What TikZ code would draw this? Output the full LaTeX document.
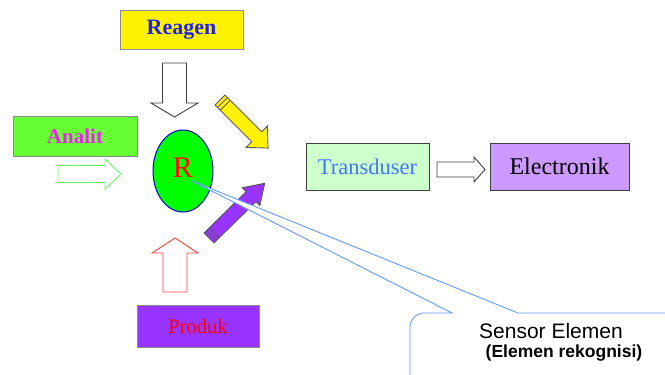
\documentclass[tikz,border=0pt]{standalone}
\usepackage{fontspec}
\setmainfont{Liberation Serif}
\setsansfont{Liberation Sans}
\usepackage{tikz}
\usetikzlibrary{shapes.geometric}

\definecolor{lime}{HTML}{66FF33}
\definecolor{rgreen}{HTML}{00FF00}
\definecolor{violet}{HTML}{9933FF}
\definecolor{lilac}{HTML}{CC99FF}
\definecolor{mint}{HTML}{CCFFCC}
\definecolor{skyline}{HTML}{6699FF}
\definecolor{tblue}{HTML}{4477FF}
\definecolor{rblue}{HTML}{2222EE}
\definecolor{pinkish}{HTML}{EE22EE}

% block arrow: style, tail, angle, length, shaft half width, head half width, head length
\newcommand{\fatarrow}[7]{%
  \begin{scope}[shift={#2}, rotate=#3]
    \draw[#1] (0,-#5) -- ({#4-#7},-#5) -- ({#4-#7},-#6) -- (#4,0) -- ({#4-#7},#6) -- ({#4-#7},#5) -- (0,#5) -- cycle;
  \end{scope}}
% same, with two bands at the tail
\newcommand{\pencilarrow}[7]{%
  \fatarrow{#1}{#2}{#3}{#4}{#5}{#6}{#7}
  \begin{scope}[shift={#2}, rotate=#3]
    \draw[#1] (3.5,-#5) -- (3.5,#5) (7.5,-#5) -- (7.5,#5);
  \end{scope}}

\begin{document}
\begin{tikzpicture}[x=1pt, y=-1pt]
	\tikzstyle{box}=[rectangle, draw=gray!90, line width=0.8pt, inner sep=0pt]
	\tikzstyle{darkbox}=[rectangle, draw=black!75, line width=1pt, inner sep=0pt]
	\tikzstyle{hollow}=[draw=black!75, fill=white, line width=0.9pt, line join=miter]
	\tikzstyle{pen}=[draw=black!65, line width=0.9pt, line join=miter]
	\tikzstyle{connect}=[draw=skyline, line width=0.9pt]
	
	\useasboundingbox (0,0) rectangle (665,375);
	\clip (0,0) rectangle (665,375);
	
	\node[box, fill=yellow, minimum width=123pt, minimum height=39pt, text=rblue, font=\fontsize{22}{24}\selectfont\bfseries] (reagen) at (181.5,29.5) {Reagen};
	\node[box, fill=lime, minimum width=124pt, minimum height=40pt, text=pinkish, font=\fontsize{21}{23}\selectfont\bfseries] (analit) at (75,136) {Analit};
	\node[ellipse, draw=blue!80!black, line width=1pt, fill=rgreen, minimum width=60pt, minimum height=82pt, inner sep=0pt, text=red!90!orange, font=\fontsize{30}{32}\selectfont] (r) at (183,171) {\raisebox{7pt}{R}};
	\node[box, fill=violet, minimum width=122pt, minimum height=42pt, text=red, font=\fontsize{20.5}{22}\selectfont] (produk) at (198,326) {Produk};
	
	\node[darkbox, fill=mint, minimum width=123pt, minimum height=47pt, text=tblue, font=\fontsize{22.5}{24}\selectfont] (trans) at (367.5,166.5) {Transduser};
	\node[darkbox, fill=lilac, minimum width=139pt, minimum height=47pt, font=\fontsize{24}{26}\selectfont] (elec) at (559.5,166.5) {Electronik};
	
	% block arrows
	\fatarrow{hollow}{(174.5,63)}{-90}{54}{12}{23.5}{14}
	\fatarrow{hollow, draw=green!60!white}{(58,174)}{0}{63}{8.5}{15}{16}
	\fatarrow{hollow, draw=red!75!white}{(175,292)}{90}{54}{12}{23}{15}
	\fatarrow{hollow}{(437,169.5)}{0}{48}{7.5}{12.5}{11}
	\pencilarrow{pen, fill=yellow}{(220,100)}{-45}{68}{7}{15}{16}
	\pencilarrow{pen, fill=violet}{(209,238)}{44.5}{78}{7}{12.5}{19}
	
	% callout
	\coordinate (ptip) at (192,181);
	\path[fill=white] (ptip) -- (452,313) [rounded corners=14pt] -- (410,313) -- (410,400) -- (700,400) -- (700,313) [sharp corners] -- (518,313) -- cycle;
	\draw[connect] (ptip) -- (452,313) [rounded corners=14pt] -- (410,313) -- (410,400);
	\draw[connect] (ptip) -- (518,313) -- (700,313);
	
	\node[font=\sffamily\fontsize{21}{23}\selectfont] (sensor) at (551,331) {Sensor Elemen};
	\node[font=\sffamily\bfseries\fontsize{17.5}{19}\selectfont] (sensorsub) at (564,353) {(Elemen rekognisi)};
\end{tikzpicture}
\end{document}
